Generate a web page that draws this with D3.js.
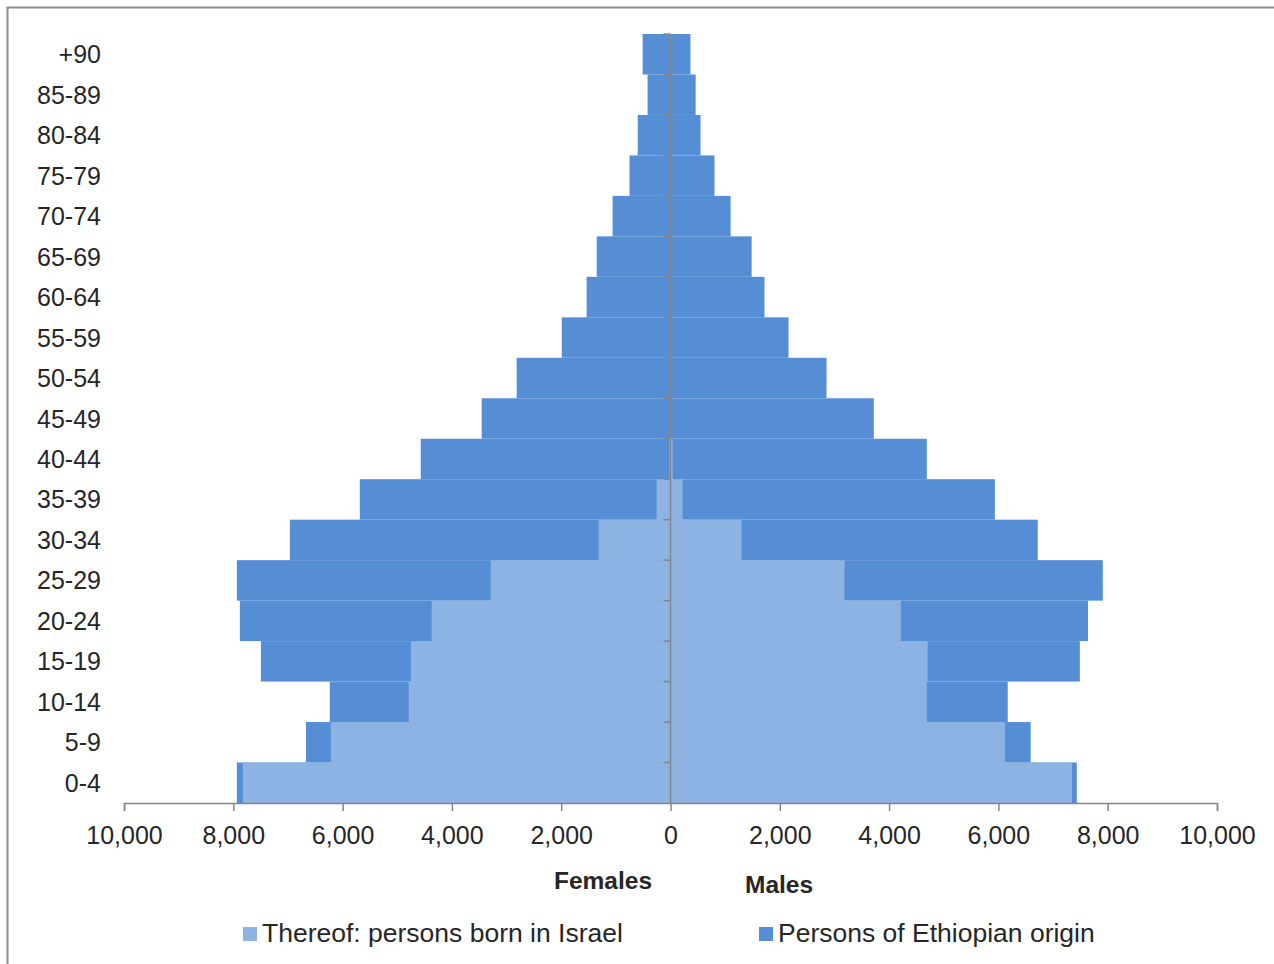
<!DOCTYPE html>
<html>
<head>
<meta charset="utf-8">
<script src="https://cdn.jsdelivr.net/npm/d3@7"></script>
<style>
  body { margin: 0; background: #fff; }
  text { font-family: "Liberation Sans", Arial, sans-serif; fill: #262626; }
</style>
</head>
<body>
<script>
// age groups, bottom to top
const ageGroups = ["0-4","5-9","10-14","15-19","20-24","25-29","30-34","35-39","40-44","45-49",
                   "50-54","55-59","60-64","65-69","70-74","75-79","80-84","85-89","+90"];
// persons of Ethiopian origin
const femalesTotal = [7935,6670,6235,7495,7880,7935,6965,5685,4570,3455,2815,1990,1535,1350,1060,750,600,420,510];
const malesTotal   = [7435,6590,6170,7490,7640,7910,6720,5935,4690,3720,2855,2160,1720,1485,1100,805,550,460,365];
// thereof: born in Israel
const femalesIsrael = [7825,6215,4790,4750,4370,3290,1315,255,20,0,0,0,0,0,0,0,0,0,0];
const malesIsrael   = [7345,6120,4690,4705,4215,3185,1300,220,40,0,0,0,0,0,0,0,0,0,0];
const xTicks = [-10000,-8000,-6000,-4000,-2000,0,2000,4000,6000,8000,10000];
const seriesNames = ["Thereof: persons born in Israel", "Persons of Ethiopian origin"];

const W = 1274, H = 964;
const darkBlue = "#558ed5", lightBlue = "#8db3e2", axisGrey = "#868686";

const svg = d3.select("body").append("svg")
    .attr("width", W).attr("height", H);

// chart border
svg.append("rect")
    .attr("x", 7.5).attr("y", 7.5)
    .attr("width", 1400).attr("height", 1100)
    .attr("fill", "none").attr("stroke", "#8c8c8c").attr("stroke-width", 2);

const x = d3.scaleLinear().domain([-10000, 10000]).range([124, 1217]);
const y = d3.scaleBand().domain(ageGroups.slice().reverse()).range([34, 803]).padding(0);

const rows = ageGroups.map((g, i) => ({
  g, fT: femalesTotal[i], mT: malesTotal[i], fI: femalesIsrael[i], mI: malesIsrael[i]
}));

// total bars (dark)
svg.append("g").selectAll("rect.ft").data(rows).join("rect")
    .attr("x", d => x(-d.fT)).attr("y", d => y(d.g))
    .attr("width", d => x(0) - x(-d.fT)).attr("height", y.bandwidth())
    .attr("fill", darkBlue);
svg.append("g").selectAll("rect.mt").data(rows).join("rect")
    .attr("x", x(0)).attr("y", d => y(d.g))
    .attr("width", d => x(d.mT) - x(0)).attr("height", y.bandwidth())
    .attr("fill", darkBlue);

// born in Israel (light)
svg.append("g").selectAll("rect.fi").data(rows).join("rect")
    .attr("x", d => x(-d.fI)).attr("y", d => y(d.g))
    .attr("width", d => x(0) - x(-d.fI)).attr("height", y.bandwidth())
    .attr("fill", lightBlue);
svg.append("g").selectAll("rect.mi").data(rows).join("rect")
    .attr("x", x(0)).attr("y", d => y(d.g))
    .attr("width", d => x(d.mI) - x(0)).attr("height", y.bandwidth())
    .attr("fill", lightBlue);

// x axis
const xAxis = svg.append("g")
    .attr("transform", "translate(0,803)")
    .call(d3.axisBottom(x).tickValues(xTicks)
      .tickSize(8).tickPadding(15)
      .tickFormat(d => d3.format(",")(Math.abs(d))));
xAxis.select(".domain").attr("stroke", axisGrey).attr("stroke-width", 1.5);
xAxis.selectAll(".tick line").attr("stroke", axisGrey).attr("stroke-width", 1.5);
xAxis.selectAll(".tick text").attr("font-size", 25).attr("fill", "#262626")
    .style("font-family", "'Liberation Sans', Arial, sans-serif");

// category axis at zero
const yAx = svg.append("g");
yAx.append("line")
    .attr("x1", x(0)).attr("x2", x(0))
    .attr("y1", y.range()[0]).attr("y2", y.range()[1])
    .attr("stroke", axisGrey).attr("stroke-width", 1.5);
yAx.selectAll("line.tk").data(ageGroups).join("line")
    .attr("x1", x(0) - 7).attr("x2", x(0))
    .attr("y1", d => y(d)).attr("y2", d => y(d))
    .attr("stroke", axisGrey).attr("stroke-width", 1.5);

// category labels
svg.append("g").selectAll("text").data(ageGroups).join("text")
    .attr("x", 101).attr("y", d => y(d) + y.bandwidth() / 2)
    .attr("dy", "0.36em").attr("text-anchor", "end")
    .attr("font-size", 25).text(d => d);

// side labels
svg.append("text").attr("x", 603).attr("y", 889).attr("text-anchor", "middle")
    .attr("font-size", 24.5).attr("font-weight", "bold").text("Females");
svg.append("text").attr("x", 745).attr("y", 893)
    .attr("font-size", 24.5).attr("font-weight", "bold").text("Males");

// legend
const legend = svg.append("g");
const legendItems = [
  {name: seriesNames[0], color: lightBlue, x: 243},
  {name: seriesNames[1], color: darkBlue, x: 759}
];
legendItems.forEach(it => {
  legend.append("rect").attr("x", it.x).attr("y", 927)
      .attr("width", 14).attr("height", 14).attr("fill", it.color);
  legend.append("text").attr("x", it.x + 19).attr("y", 942)
      .attr("font-size", 26.5).text(it.name);
});
</script>
</body>
</html>
